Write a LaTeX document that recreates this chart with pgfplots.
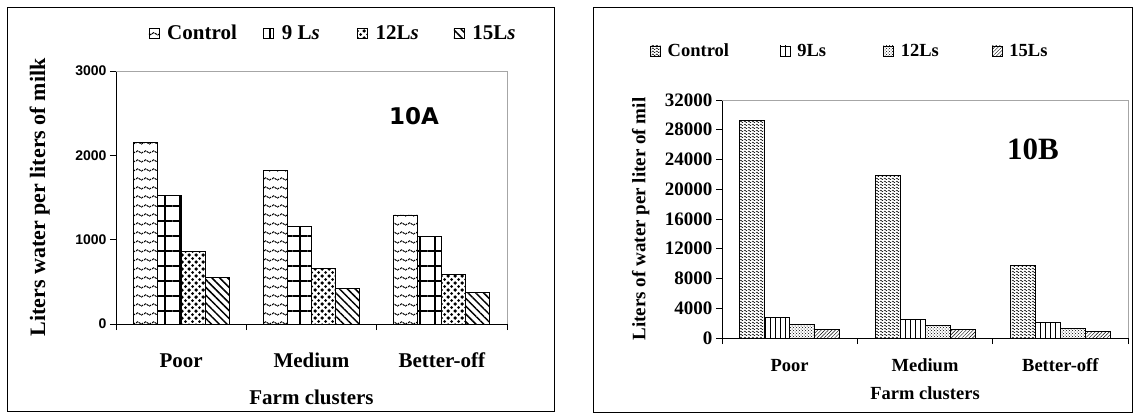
\documentclass[border=0pt]{standalone}
\usepackage{pgfplots}
\pgfplotsset{compat=1.18}
\usepackage{fontspec}
\setmainfont{Liberation Serif}
\newfontfamily\arialfont{Liberation Sans}
\newfontfamily\dejafont{DejaVu Sans}
\usetikzlibrary{patterns,patterns.meta}

% wavy rows (left Control)
\pgfdeclarepatternformonly{waves}{\pgfqpoint{0pt}{0pt}}{\pgfqpoint{8pt}{9pt}}{\pgfqpoint{8pt}{9pt}}{%
  \pgfsetlinewidth{1.1pt}\pgfsetdash{{2.6pt}{0.9pt}}{0pt}%
  \pgfpathmoveto{\pgfqpoint{0pt}{4.5pt}}%
  \pgfpathcurveto{\pgfqpoint{2pt}{9pt}}{\pgfqpoint{6pt}{0pt}}{\pgfqpoint{8pt}{4.5pt}}%
  \pgfusepath{stroke}}
% big staggered dots (left 12Ls)
\pgfdeclarepatternformonly{bigdots}{\pgfqpoint{-2pt}{-2pt}}{\pgfqpoint{9pt}{9pt}}{\pgfqpoint{7pt}{7pt}}{%
  \pgfpathcircle{\pgfqpoint{0pt}{0pt}}{1.5pt}%
  \pgfpathcircle{\pgfqpoint{3.5pt}{3.5pt}}{1.5pt}%
  \pgfpathcircle{\pgfqpoint{7pt}{7pt}}{1.5pt}%
  \pgfpathcircle{\pgfqpoint{7pt}{0pt}}{1.5pt}%
  \pgfpathcircle{\pgfqpoint{0pt}{7pt}}{1.5pt}%
  \pgfusepath{fill}}
% fine zigzag texture (right Control)
\pgfdeclarepatternformonly{smallwaves}{\pgfqpoint{0pt}{0pt}}{\pgfqpoint{4pt}{3pt}}{\pgfqpoint{4pt}{3pt}}{%
  \pgfsetlinewidth{0.55pt}%
  \pgfpathmoveto{\pgfqpoint{0pt}{1.5pt}}%
  \pgfpathlineto{\pgfqpoint{1pt}{2.6pt}}%
  \pgfpathlineto{\pgfqpoint{3pt}{0.4pt}}%
  \pgfpathlineto{\pgfqpoint{4pt}{1.5pt}}%
  \pgfusepath{stroke}}

\pgfplotstableread{
x Control L9 L12 L15
0 2155 1520 858 557
1 1822 1158 660 423
2 1293 1040 589 376
}\tabA
\pgfplotstableread{
x Control L9 L12 L15
0 29300 2750 1800 1100
1 21800 2450 1650 1100
2 9700 2100 1250 850
}\tabB

\pgfplotsset{
  farmbars/.style={
    anchor=south west, scale only axis,
    ybar=0pt, ymin=0,
    xmin=-0.5, xmax=2.5,
    axis lines=left, axis line style={-, line width=0.8pt},
    xtick={-0.5,0.5,1.5,2.5}, xticklabels={},
    extra x ticks={0,1,2}, extra x tick labels={Poor,Medium,Better-off},
    extra x tick style={major tick length=0pt},
    tick align=outside, major tick length=6pt,
    tick style={black, line width=0.8pt},
    scaled y ticks=false,
    yticklabel style={/pgf/number format/1000 sep={}},
    /pgf/number format/assume math mode=true,
    every axis plot/.append style={draw=black, line width=0.8pt},
    legend columns=4,
    legend cell align=left,
    clip=false,
  },
}

\begin{document}
\begin{tikzpicture}
\useasboundingbox (0pt,0pt) rectangle (1135pt,416pt);
\draw[line width=1pt] (7pt,5pt) rectangle (554pt,408pt);
\draw[line width=1pt] (593pt,4pt) rectangle (1132pt,408pt);

% ---------- 10A ----------
\begin{axis}[farmbars,
  at={(116pt,92pt)}, width=391pt, height=253pt,
  bar width=24pt, ymax=3000, ytick={0,1000,2000,3000},
  yticklabel style={font=\arialfont\bfseries\fontsize{14}{14}\selectfont},
  x tick label style={font=\bfseries\fontsize{21}{24}\selectfont, anchor=base, yshift=-43pt},
  ylabel={Liters water per liters of milk},
  ylabel style={font=\bfseries\fontsize{22}{24}\selectfont, at={(axis description cs:-0.195,0.5)}, anchor=center},
  xlabel={Farm clusters},
  xlabel style={font=\bfseries\fontsize{21}{24}\selectfont, at={(axis description cs:0.5,-0.32)}, anchor=base},
  legend style={at={(axis description cs:0.075,1.15)}, anchor=west, draw=none, fill=none,
    font=\bfseries\fontsize{21}{24}\selectfont,
    /tikz/every odd column/.append style={column sep=6pt},
    /tikz/every even column/.append style={column sep=28pt}},
  legend image code/.code={\draw[#1, line width=0.7pt] (0pt,-5pt) rectangle (10pt,5pt);},
]
\addplot[pattern=waves] table[x=x, y=Control] {\tabA};
\addplot[pattern={Hatch[angle=0, distance=15pt, line width=1.3pt]}] table[x=x, y=L9] {\tabA};
\addplot[pattern=bigdots] table[x=x, y=L12] {\tabA};
\addplot[pattern={Lines[angle=-45, distance=5.5pt, line width=1.5pt]}] table[x=x, y=L15] {\tabA};
\legend{\makebox[66pt][l]{Control}, \makebox[45pt][l]{9 L\textit{s}}, \makebox[48pt][l]{12L\textit{s}}, 15L\textit{s}}
\draw[gray!70, line width=0.8pt] (rel axis cs:0,1) -- (rel axis cs:1,1) -- (rel axis cs:1,0);
\node[font=\dejafont\bfseries\fontsize{23}{23}\selectfont] at (rel axis cs:0.762,0.82) {10A};
\end{axis}

% ---------- 10B ----------
\begin{axis}[farmbars,
  at={(722pt,78pt)}, width=406pt, height=238pt,
  bar width=25pt, ymax=32000, ytick={0,4000,...,32000},
  yticklabel style={font=\bfseries\fontsize{19}{20}\selectfont},
  x tick label style={font=\bfseries\fontsize{18.5}{22}\selectfont, anchor=base, yshift=-33pt},
  ylabel={Liters of water per liter of mil},
  ylabel style={font=\bfseries\fontsize{19}{22}\selectfont, at={(axis description cs:-0.2,0.5)}, anchor=center},
  xlabel={Farm clusters},
  xlabel style={font=\bfseries\fontsize{18.5}{22}\selectfont, at={(axis description cs:0.5,-0.26)}, anchor=base},
  legend style={at={(axis description cs:-0.185,1.206)}, anchor=west, draw=none, fill=none,
    font=\bfseries\fontsize{18.5}{22}\selectfont,
    /tikz/every odd column/.append style={column sep=5pt},
    /tikz/every even column/.append style={column sep=50pt}},
  legend image code/.code={\draw[#1, line width=0.6pt] (0pt,-5pt) rectangle (10pt,5pt);},
]
\addplot[pattern=smallwaves] table[x=x, y=Control] {\tabB};
\addplot[pattern={Lines[angle=90, distance=5pt, line width=0.7pt]}] table[x=x, y=L9] {\tabB};
\addplot[pattern=crosshatch dots] table[x=x, y=L12] {\tabB};
\addplot[pattern={Lines[angle=45, distance=2.5pt, line width=0.45pt]}] table[x=x, y=L15] {\tabB};
\legend{\makebox[60pt][l]{Control}, \makebox[34pt][l]{9Ls}, \makebox[39pt][l]{12Ls}, 15Ls}
\draw[gray!70, line width=0.8pt] (rel axis cs:0,1) -- (rel axis cs:1,1) -- (rel axis cs:1,0);
\node[font=\bfseries\fontsize{31}{31}\selectfont] at (rel axis cs:0.766,0.794) {10B};
\end{axis}
\end{tikzpicture}
\end{document}
